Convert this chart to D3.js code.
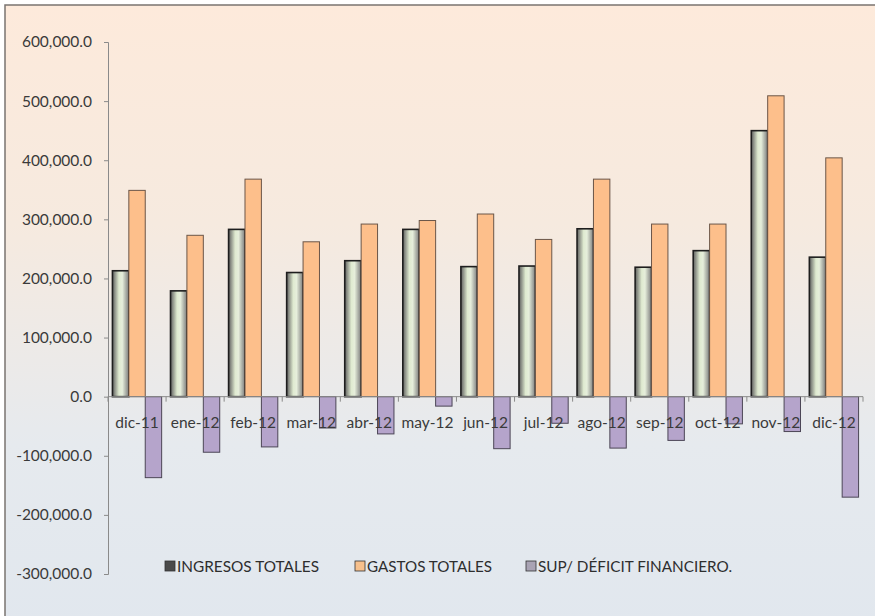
<!DOCTYPE html>
<html>
<head>
<meta charset="utf-8">
<script src="https://cdn.jsdelivr.net/npm/d3@7"></script>
<style>
  body { margin: 0; background: #fff; }
  text { font-family: Lato, "Open Sans", sans-serif; fill: #3a3a3a; }
</style>
</head>
<body>
<div id="chart"></div>
<script>
// data
var months = ["dic-11", "ene-12", "feb-12", "mar-12", "abr-12", "may-12", "jun-12",
              "jul-12", "ago-12", "sep-12", "oct-12", "nov-12", "dic-12"];
var ingresos = [213000, 179000, 283000, 210000, 230000, 283000, 220000,
                221000, 284000, 219000, 247000, 450000, 236000];
var gastos = [349000, 273000, 368000, 262000, 292000, 298000, 309000,
              266000, 368000, 292000, 292000, 509000, 404000];
var deficit = [-137000, -94000, -85000, -53000, -63000, -16000, -88000,
               -45000, -87000, -74000, -46000, -59000, -170000];
var seriesNames = ["INGRESOS TOTALES", "GASTOS TOTALES", "SUP/ DÉFICIT  FINANCIERO."];
var yTicks = [-300000, -200000, -100000, 0, 100000, 200000, 300000, 400000, 500000, 600000];

var W = 875, H = 616;
var plot = {left: 108, right: 863, top: 42, bottom: 574};

var svg = d3.select("#chart").append("svg")
  .attr("width", W)
  .attr("height", H);

var defs = svg.append("defs");
var bg = defs.append("linearGradient").attr("id", "bg")
  .attr("x1", 0).attr("y1", 0).attr("x2", 0).attr("y2", 1);
bg.append("stop").attr("offset", "0%").attr("stop-color", "#fdeadb");
bg.append("stop").attr("offset", "35%").attr("stop-color", "#f6eadf");
bg.append("stop").attr("offset", "70%").attr("stop-color", "#e6eaee");
bg.append("stop").attr("offset", "100%").attr("stop-color", "#e1e7ee");

var gr = defs.append("linearGradient").attr("id", "green")
  .attr("x1", 0).attr("y1", 0).attr("x2", 1).attr("y2", 0);
gr.append("stop").attr("offset", "0%").attr("stop-color", "#5e5e5e");
gr.append("stop").attr("offset", "40%").attr("stop-color", "#dfead0");
gr.append("stop").attr("offset", "60%").attr("stop-color", "#e6eedb");
gr.append("stop").attr("offset", "100%").attr("stop-color", "#7c7c7c");

// frame + background
svg.append("rect")
  .attr("x", 5).attr("y", 5)
  .attr("width", W + 10).attr("height", H + 10)
  .attr("fill", "url(#bg)")
  .attr("stroke", "#7a7470")
  .attr("stroke-width", 1.5);

var y = d3.scaleLinear()
  .domain([-300000, 600000])
  .range([plot.bottom, plot.top]);

var x0 = d3.scaleBand()
  .domain(months)
  .range([plot.left, plot.right])
  .padding(0);

var x1 = d3.scaleBand()
  .domain([0, 1, 2])
  .range([0, x0.bandwidth()])
  .paddingInner(0)
  .paddingOuter(0.27);

var fills = ["url(#green)", "#fdbf8b", "#b5a4cb"];
var strokes = ["#1e1e1e", "#6b5648", "#4c4656"];

var rows = months.map(function(m, i) {
  return {month: m, vals: [ingresos[i], gastos[i], deficit[i]]};
});

var groups = svg.selectAll(".grp")
  .data(rows)
  .enter().append("g")
  .attr("class", "grp")
  .attr("transform", function(d) { return "translate(" + x0(d.month) + ",0)"; });

groups.selectAll("rect")
  .data(function(d) { return d.vals.map(function(v, k) { return {k: k, v: v}; }); })
  .enter().append("rect")
  .attr("x", function(d) { return x1(d.k); })
  .attr("width", x1.bandwidth())
  .attr("y", function(d) { return y(Math.max(0, d.v)); })
  .attr("height", function(d) { return Math.abs(y(d.v) - y(0)); })
  .attr("fill", function(d) { return fills[d.k]; })
  .attr("stroke", function(d) { return strokes[d.k]; })
  .attr("stroke-width", function(d) { return d.k == 0 ? 1.6 : 1; });

// y axis
var yAxis = svg.append("g")
  .attr("transform", "translate(" + plot.left + ",0)")
  .call(d3.axisLeft(y).tickValues(yTicks).tickSize(4).tickPadding(12)
    .tickFormat(function(d) { return d3.format(",.1f")(d).replace("−", "-"); }));
yAxis.select(".domain").attr("stroke", "#8a8a8a");
yAxis.selectAll(".tick line").attr("stroke", "#8a8a8a");
yAxis.selectAll(".tick text")
  .style("font-size", "15.5px")
  .style("font-family", "Lato, sans-serif")
  .attr("fill", "#3a3a3a");

// zero line with category ticks
svg.append("line")
  .attr("x1", plot.left).attr("x2", plot.right)
  .attr("y1", y(0)).attr("y2", y(0))
  .attr("stroke", "#8a8a8a");
svg.selectAll(".ctick")
  .data(months.concat(["end"]))
  .enter().append("line")
  .attr("x1", function(d) { return d == "end" ? plot.right : x0(d); })
  .attr("x2", function(d) { return d == "end" ? plot.right : x0(d); })
  .attr("y1", y(0)).attr("y2", y(0) + 5)
  .attr("stroke", "#8a8a8a");

// month labels over the bars
svg.selectAll(".mlab")
  .data(months)
  .enter().append("text")
  .attr("x", function(d) { return x0(d) + x0.bandwidth() / 2; })
  .attr("y", y(0) + 31)
  .attr("text-anchor", "middle")
  .style("font-size", "15.5px")
  .text(function(d) { return d; });

// legend
var legX = [165, 355, 526];
var legW = [142, 125, 194];
var legFill = ["#4a4a4a", "#f7c08c", "#a9a3b4"];
var leg = svg.selectAll(".leg")
  .data(seriesNames)
  .enter().append("g")
  .attr("transform", function(d, i) { return "translate(" + legX[i] + ",561)"; });
leg.append("rect")
  .attr("width", 10).attr("height", 10)
  .attr("fill", function(d, i) { return legFill[i]; })
  .attr("stroke", "#333").attr("stroke-width", 0.8);
leg.append("text")
  .attr("x", 12).attr("y", 11)
  .attr("textLength", function(d, i) { return legW[i]; })
  .attr("lengthAdjust", "spacingAndGlyphs")
  .style("font-size", "15px")
  .style("fill", "#2e2e2e")
  .text(function(d) { return d; });
</script>
</body>
</html>
